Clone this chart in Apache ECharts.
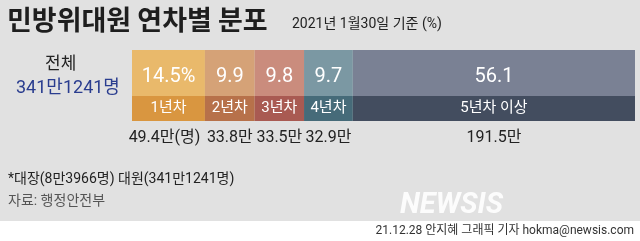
<!DOCTYPE html>
<html><head><meta charset="utf-8">
<script src="https://cdn.jsdelivr.net/npm/echarts@6/dist/echarts.min.js"></script>
<style>html,body{margin:0;padding:0;background:#fff}#c{width:640px;height:241px}</style>
</head><body><div id="c"></div>
<script>
const categories = ['1년차', '2년차', '3년차', '4년차', '5년차 이상'];
const shares = [14.5, 9.9, 9.8, 9.7, 56.1];
const counts = [49.4, 33.8, 33.5, 32.9, 191.5];
const topColors = ['#e9b96b', '#d5a277', '#ca8c7d', '#7b98a3', '#7a8194'];
const bottomColors = ['#d99640', '#b7714a', '#a95a52', '#466b79', '#434d5f'];

const NARROW = "Roboto, 'Noto Sans CJK KR', sans-serif";
const chart = echarts.init(document.getElementById('c'), null, {renderer: 'canvas'});

const grids = [
  {left: 132, right: 5, top: 50, height: 46},
  {left: 132, right: 5, top: 96, height: 25},
  {left: 132, right: 5, top: 126, height: 24}
];
const xAxes = grids.map((g, i) => ({gridIndex: i, type: 'value', min: 0, max: 100, show: false}));
const yAxes = grids.map((g, i) => ({gridIndex: i, type: 'category', data: ['a'], show: false}));

const series = [];
categories.forEach((cat, i) => {
  series.push({
    type: 'bar', stack: 'top', xAxisIndex: 0, yAxisIndex: 0, barWidth: '100%',
    data: [shares[i]], itemStyle: {color: topColors[i]},
    label: {show: true, position: 'inside', offset: [0, 4], color: '#fff', fontSize: 20,
      fontFamily: NARROW, formatter: () => i === 0 ? shares[i].toFixed(1) + '%' : shares[i].toFixed(1)},
    silent: true, animation: false
  });
  series.push({
    type: 'bar', stack: 'bot', xAxisIndex: 1, yAxisIndex: 1, barWidth: '100%',
    data: [shares[i]], itemStyle: {color: bottomColors[i]},
    label: {show: true, position: 'inside', color: '#fff', fontSize: 15,
      fontFamily: NARROW, formatter: () => cat},
    silent: true, animation: false
  });
  series.push({
    type: 'bar', stack: 'cnt', xAxisIndex: 2, yAxisIndex: 2, barWidth: '100%',
    data: [shares[i]], itemStyle: {color: 'rgba(0,0,0,0)'},
    label: {show: true, position: 'inside', color: '#222', fontSize: 16, offset: i === 0 ? [-4, 0] : [0, 0],
      fontFamily: NARROW, formatter: () => counts[i].toFixed(1) + '만' + (i === 0 ? '(명)' : '')},
    silent: true, animation: false
  });
});

chart.setOption({
  backgroundColor: '#ffffff',
  animation: false,
  grid: grids, xAxis: xAxes, yAxis: yAxes, series: series,
  graphic: [
    {type: 'rect', left: 0, top: 0, shape: {width: 640, height: 221}, style: {fill: '#e1e1e1'}, z: -10},
    {type: 'text', left: 7, top: 6, style: {text: '민방위대원 연차별 분포', font: "bold 27px 'Noto Sans CJK KR'", fill: '#1e1e1e'}},
    {type: 'text', left: 292, top: 18, style: {text: '2021년 1월30일 기준 (%)', font: "14px " + NARROW, fill: '#222'}},
    {type: 'text', left: 45, top: 54, style: {text: '전체', font: "17px 'Noto Sans CJK KR'", fill: '#222'}},
    {type: 'text', left: 16, top: 80, style: {text: '341만1241명', font: "18px " + NARROW, fill: '#2a3d8f'}},
    {type: 'text', left: 8, top: 173, style: {text: '*대장(8만3966명) 대원(341만1241명)', font: "14px " + NARROW, fill: '#222'}},
    {type: 'text', left: 8, top: 195, style: {text: '자료: 행정안전부', font: "14px " + NARROW, fill: '#555'}},
    {type: 'text', left: 400, top: 191, style: {text: 'NEWSIS', font: "italic bold 29px Roboto, sans-serif", fill: 'rgba(255,255,255,0.9)'}},
    {type: 'text', right: 6, top: 225, style: {text: '21.12.28 안지혜 그래픽 기자 hokma@newsis.com', font: "12px " + NARROW, fill: '#333'}}
  ]
});
</script></body></html>
